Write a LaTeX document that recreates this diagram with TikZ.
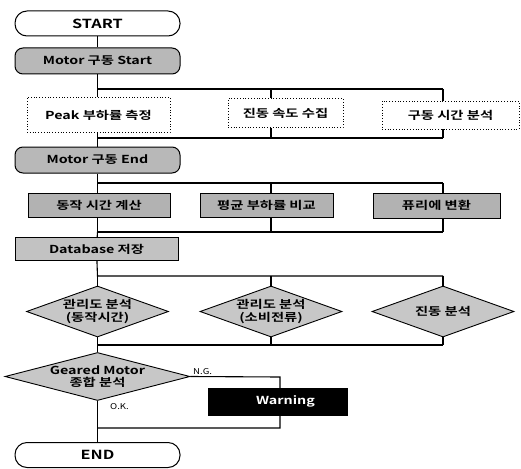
\documentclass[tikz,border=0pt]{standalone}
\usepackage{fontspec}
\usetikzlibrary{shapes.geometric}
\newfontfamily\kfont{Noto Sans CJK KR Bold}[FakeStretch=1.3]
\newfontfamily\kreg{Noto Sans CJK KR}[FakeStretch=1.2]
\tikzset{
  conn/.style={line width=1.1pt, draw=black},
  txt/.style={font=\kfont\fontsize{11}{12.5}\selectfont, inner sep=0pt, align=center},
  term/.style={txt, draw, line width=1pt, fill=white, rounded corners=12pt, minimum width=165pt, minimum height=25pt, font=\kfont\fontsize{12.5}{14}\selectfont},
  motor/.style={txt, draw, line width=1pt, fill=black!28, rounded corners=8pt, minimum width=165pt, minimum height=26pt},
  dotbox/.style={txt, draw, dotted, line width=0.8pt, fill=white},
  grbox/.style={txt, draw, line width=0.9pt, fill=black!30},
  dia/.style={diamond, draw, line width=0.9pt, fill=black!22, inner sep=0pt},
  dlabel/.style={txt},
  small/.style={font=\kreg\fontsize{8}{9}\selectfont, inner sep=0pt}
}
\begin{document}
\begin{tikzpicture}[x=1pt,y=-1pt]
\useasboundingbox[fill=white] (0,0) rectangle (521,468);

% bus coordinates
\coordinate (b1l) at (97.5,89);  \coordinate (b1m) at (271,89);  \coordinate (b1r) at (443,89);
\coordinate (b2l) at (97.5,138); \coordinate (b2m) at (271,138); \coordinate (b2r) at (443,138);
\coordinate (b3l) at (97.5,183); \coordinate (b3m) at (271,183); \coordinate (b3r) at (443,183);
\coordinate (b4l) at (97.5,232); \coordinate (b4m) at (271,232); \coordinate (b4r) at (443,232);
\coordinate (b5l) at (97.5,276); \coordinate (b5m) at (271,276); \coordinate (b5r) at (443,276);
\coordinate (b6l) at (97.5,345); \coordinate (b6m) at (271,345); \coordinate (b6r) at (443,345);
\coordinate (ng1) at (280,377);  \coordinate (ng2) at (280,428); \coordinate (okj) at (97.5,428);

% nodes
\node[term]  (start)  at (97.5,23.5) {START};
\node[motor] (mstart) at (97.5,61)   {Motor 구동 Start};
\node[dotbox, minimum width=143pt, minimum height=35pt] (p1) at (98.5,115) {Peak 부하률 측정};
\node[dotbox, minimum width=115pt, minimum height=29pt] (p2) at (285.5,113) {진동 속도 수집};
\node[dotbox, minimum width=137pt, minimum height=28pt] (p3) at (450.5,115) {구동 시간 분석};
\node[motor] (mend)   at (97.5,160)  {Motor 구동 End};
\node[grbox, minimum width=142pt, minimum height=24pt] (c1) at (99,205)    {동작 시간 계산};
\node[grbox, minimum width=133pt, minimum height=24pt] (c2) at (266.5,205) {평균 부하률 비교};
\node[grbox, minimum width=127pt, minimum height=25pt] (c3) at (436.5,205.5) {퓨리에 변환};
\node[grbox, fill=black!24, minimum width=163pt, minimum height=23pt] (db) at (96.5,249) {Database 저장};
\node[dia, minimum width=142pt, minimum height=51pt] (d1) at (97.5,311.5) {};
\node[dia, minimum width=142pt, minimum height=51pt] (d2) at (271,311.5) {};
\node[dia, minimum width=142pt, minimum height=51pt] (d3) at (443,311.5) {};
\node[dlabel] (d1t) at (97.5,311.5) {관리도 분석\\(동작시간)};
\node[dlabel] (d2t) at (271,311.5)  {관리도 분석\\(소비전류)};
\node[dlabel] (d3t) at (443,311.5)  {진동 분석};
\node[dia, minimum width=185pt, minimum height=48pt] (gm) at (97.5,376.5) {};
\node[dlabel] (gmt) at (97.5,376.5) {Geared Motor\\종합 분석};
\node[term]  (end) at (97.5,455) {END};

% connectors
\draw[conn] (start) -- (mstart);
\draw[conn] (mstart) -- (b1l) -- (b1r);
\draw[conn] (b1l) -- (b1l |- p1.north);
\draw[conn] (b1m) -- (b1m |- p2.north);
\draw[conn] (b1r) -- (b1r |- p3.north);
\draw[conn] (b2l |- p1.south) -- (b2l);
\draw[conn] (b2m |- p2.south) -- (b2m);
\draw[conn] (b2r |- p3.south) -- (b2r);
\draw[conn] (b2l) -- (b2r);
\draw[conn] (b2l) -- (mend);
\draw[conn] (mend) -- (b3l) -- (b3r);
\draw[conn] (b3l) -- (b3l |- c1.north);
\draw[conn] (b3m) -- (b3m |- c2.north);
\draw[conn] (b3r) -- (b3r |- c3.north);
\draw[conn] (b4l |- c1.south) -- (b4l);
\draw[conn] (b4m |- c2.south) -- (b4m);
\draw[conn] (b4r |- c3.south) -- (b4r);
\draw[conn] (b4l) -- (b4r);
\draw[conn] (b4l) -- (db);
\draw[conn] (db) -- (b5l) -- (b5r);
\draw[conn] (b5l) -- (d1.north);
\draw[conn] (b5m) -- (d2.north);
\draw[conn] (b5r) -- (d3.north);
\draw[conn] (d1.south) -- (b6l);
\draw[conn] (d2.south) -- (b6m);
\draw[conn] (d3.south) -- (b6r);
\draw[conn] (b6l) -- (b6r);
\draw[conn] (b6l) -- (gm.north);
\draw[conn] (gm.east) -- (ng1) -- (ng2) -- (okj);
\draw[conn] (gm.south) -- (end);

\node[txt, draw, fill=black, text=white, line width=0.9pt, minimum width=139pt, minimum height=27pt] (warn) at (277.5,401.5) {\hspace*{16pt}Warning};

\node[small, anchor=west] (ngl) at (193,372) {N.G.};
\node[small, anchor=west] (okl) at (110,407) {O.K.};
\end{tikzpicture}
\end{document}
